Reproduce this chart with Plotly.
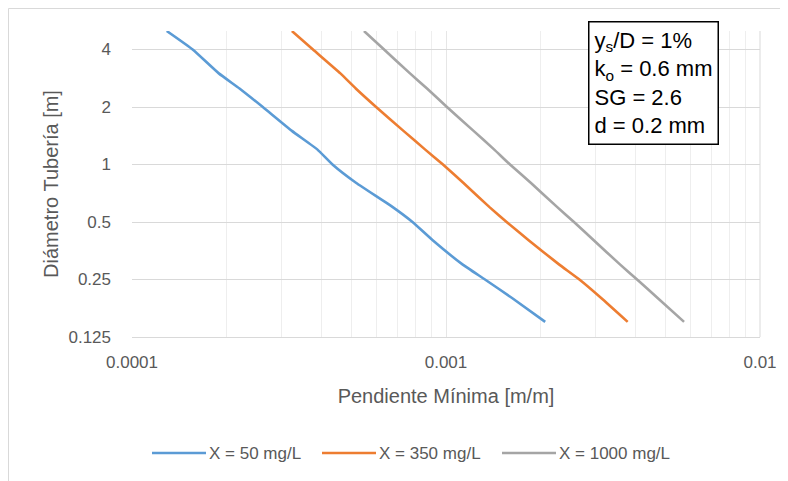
import plotly.graph_objects as go

# Data
diametro = [5.0, 4.0, 3.0, 2.5, 2.0, 1.5, 1.2, 1.0, 0.8, 0.6, 0.5, 0.4, 0.3, 0.25, 0.2, 0.15]
pend_50 = [1.29e-4, 1.56e-4, 1.89e-4, 2.20e-4, 2.61e-4, 3.23e-4, 3.89e-4, 4.35e-4,
           5.18e-4, 6.75e-4, 7.82e-4, 9.09e-4, 1.128e-3, 1.331e-3, 1.623e-3, 2.07e-3]
pend_350 = [3.23e-4, 3.77e-4, 4.61e-4, 5.16e-4, 5.99e-4, 7.32e-4, 8.57e-4, 9.78e-4,
            1.137e-3, 1.373e-3, 1.56e-3, 1.837e-3, 2.29e-3, 2.66e-3, 3.12e-3, 3.79e-3]
pend_1000 = [5.48e-4, 6.35e-4, 7.68e-4, 8.70e-4, 1.007e-3, 1.224e-3, 1.422e-3, 1.599e-3,
             1.865e-3, 2.257e-3, 2.556e-3, 2.96e-3, 3.58e-3, 4.06e-3, 4.72e-3, 5.73e-3]
series_names = ["X = 50 mg/L", "X = 350 mg/L", "X = 1000 mg/L"]
series_colors = ["#5B9BD5", "#ED7D31", "#A5A5A5"]

x_tickvals = [1e-4, 1e-3, 1e-2]
x_ticktext = ["0.0001", "0.001", "0.01"]
y_tickvals = [0.125, 0.25, 0.5, 1, 2, 4]
y_ticktext = ["0.125", "0.25", "0.5", "1", "2", "4"]
x_minor = [m * 10.0 ** e for e in (-4, -3) for m in range(2, 10)]

FONT = "Liberation Sans"
GREY = "#595959"

# plot area on screen: x 132..760, y 31..337 (page has an 8px body margin)
def px(sx):
    return (sx - 132) / 628

def py(sy):
    return (337 - sy) / 306

fig = go.Figure()
for name, vals, col in zip(series_names, [pend_50, pend_350, pend_1000], series_colors):
    fig.add_trace(go.Scatter(
        x=vals, y=diametro, mode="lines", name=name, showlegend=False,
        line=dict(color=col, width=2.6, shape="spline", smoothing=0.4),
    ))

fig.update_layout(
    width=780, height=473,
    margin=dict(l=124, r=28, t=23, b=144, autoexpand=False),
    paper_bgcolor="white", plot_bgcolor="white",
    font=dict(family=FONT, color=GREY, size=17),
    showlegend=False,
    xaxis=dict(
        type="log", range=[-4, -2], automargin=False,
        tickvals=x_tickvals, ticktext=x_ticktext,
        showgrid=True, gridcolor="#e6e6e6", gridwidth=1,
        minor=dict(showgrid=True, tickvals=x_minor, gridcolor="#eeeeee", gridwidth=1),
        showline=True, linecolor="#d9d9d9", linewidth=1,
        ticks="", ticklabelstandoff=10,
        tickfont=dict(size=17, color=GREY),
        zeroline=False,
        title=dict(text="Pendiente Mínima [m/m]", font=dict(size=20, color=GREY), standoff=17),
    ),
    yaxis=dict(
        type="log", range=[-0.90309, 0.69897], automargin=False,
        tickvals=y_tickvals, ticktext=y_ticktext,
        showgrid=True, gridcolor="#d9d9d9", gridwidth=1,
        showline=False, ticks="", ticklabelstandoff=20,
        tickfont=dict(size=17, color=GREY),
        zeroline=False,
        title=dict(text="Diámetro Tubería [m]", font=dict(size=20, color=GREY), standoff=4),
    ),
)

# right edge line (0.01 gridline appears darker)
fig.add_shape(type="line", xref="paper", yref="paper", x0=1, x1=1, y0=0, y1=1,
              line=dict(color="#d9d9d9", width=1))

# outer chart border
fig.add_shape(type="rect", xref="paper", yref="paper",
              x0=px(8.5), x1=px(830), y0=py(520), y1=py(8.5),
              line=dict(color="#d9d9d9", width=1), layer="below")

# legend (drawn manually to get Excel-style long line samples)
legend_starts = [152, 322, 502]
for sx, name, col in zip(legend_starts, series_names, series_colors):
    fig.add_shape(type="line", xref="paper", yref="paper",
                  x0=px(sx), x1=px(sx + 54), y0=py(453), y1=py(453),
                  line=dict(color=col, width=2.6))
    fig.add_annotation(xref="paper", yref="paper", x=px(sx + 55), y=py(453),
                       xanchor="left", yanchor="middle", text=name, showarrow=False,
                       font=dict(family=FONT, size=17, color=GREY))

# parameter box
fig.add_annotation(
    xref="paper", yref="paper",
    x=px(588), y=py(21), xanchor="left", yanchor="top",
    text="y<sub>s</sub>/D = 1%<br>k<sub>o</sub> = 0.6 mm<br>SG = 2.6<br>d = 0.2 mm",
    align="left", showarrow=False,
    font=dict(family=FONT, size=22, color="black"),
    bgcolor="white", bordercolor="black", borderwidth=1.5, borderpad=5,
)

fig.write_html("out.html")
